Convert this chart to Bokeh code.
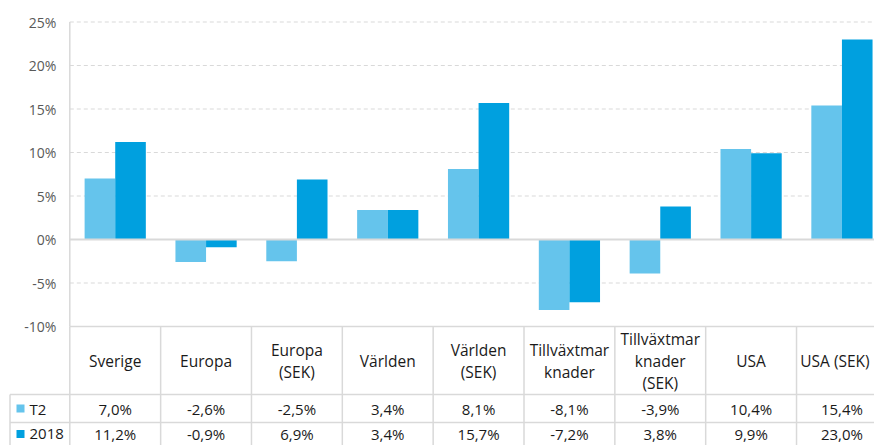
from bokeh.plotting import figure
from bokeh.models import Range1d, ColumnDataSource
from bokeh.core.properties import value
from bokeh.embed import file_html
from bokeh.resources import INLINE

# ---------------- data ----------------
categories = ["Sverige", "Europa", "Europa\n(SEK)", "Världen", "Världen\n(SEK)",
              "Tillväxtmar\nknader", "Tillväxtmar\nknader\n(SEK)", "USA", "USA (SEK)"]
series_names = ["T2", "2018"]
t2_values = [7.0, -2.6, -2.5, 3.4, 8.1, -8.1, -3.9, 10.4, 15.4]
y2018_values = [11.2, -0.9, 6.9, 3.4, 15.7, -7.2, 3.8, 9.9, 23.0]
y_ticks = [-10, -5, 0, 5, 10, 15, 20, 25]
y_tick_labels = [f"{t}%" for t in y_ticks]

# ---------------- layout (pixels) ----------------
W, H = 874, 445
frame_left_px = 69.3
col_px = 90.84
zero_px = 239.0
px_per_unit = 8.7
header_bottom_px = 394.0
t2_bottom_px = 422.0
row2_center_px = 433.5
table_left_px = 9.5

def xd(px):
    return (px - frame_left_px) / col_px

def yd(py):
    return (zero_px - py) / px_per_unit

x_start, x_end = xd(0), xd(W)
y_start, y_end = yd(H), yd(0)

c_t2 = "#65C4EC"
c_18 = "#00A0DF"
grid_c = "#D9D9D9"
font = value("Open Sans")
txt_c = "#1A1A1A"
fs = "15.5px"
fs_row = "15px"

p = figure(width=W, height=H, output_backend="svg", toolbar_location=None,
           x_range=Range1d(x_start, x_end), y_range=Range1d(y_start, y_end),
           x_axis_location=None, y_axis_location=None, min_border=0,
           outline_line_color=None, background_fill_color="white",
           border_fill_color="white")
p.grid.visible = False

n = len(categories)
centers = [i + 0.5 for i in range(n)]
bw = 0.337

# dashed gridlines
dash_ticks = [t for t in y_ticks if t not in (0, y_ticks[0])]
p.segment(x0=[0] * len(dash_ticks), x1=[x_end] * len(dash_ticks), y0=dash_ticks, y1=dash_ticks,
          line_color=grid_c, line_width=1.2, line_dash="4 3")

# bars
p.vbar(x=[c - bw / 2 for c in centers], width=bw, top=t2_values, bottom=0,
       fill_color=c_t2, line_color=None)
p.vbar(x=[c + bw / 2 for c in centers], width=bw, top=y2018_values, bottom=0,
       fill_color=c_18, line_color=None)

# zero line and axis line
p.segment(x0=[0], x1=[x_end], y0=[0], y1=[0], line_color=grid_c, line_width=2)
p.segment(x0=[0], x1=[0], y0=[y_ticks[0]], y1=[y_ticks[-1]], line_color=grid_c, line_width=1.5)

# y tick labels
p.text(x=[0] * len(y_ticks), y=y_ticks, text=y_tick_labels, x_offset=-13.5,
       text_align="right", text_baseline="middle", text_font=font,
       text_font_size="14px", text_color="#595959")

# ---------------- data table ----------------
tb_top = y_ticks[0]
hb = yd(header_bottom_px)
rb = yd(t2_bottom_px)
bot = y_start
xl = xd(table_left_px)

# vertical lines
p.segment(x0=list(range(n + 1)), x1=list(range(n + 1)), y0=[tb_top] * (n + 1), y1=[bot] * (n + 1),
          line_color=grid_c, line_width=1.5)
p.segment(x0=[xl], x1=[xl], y0=[hb], y1=[bot], line_color=grid_c, line_width=1.5)
# horizontal lines
p.segment(x0=[0, xl, xl], x1=[x_end] * 3, y0=[tb_top, hb, rb], y1=[tb_top, hb, rb],
          line_color=grid_c, line_width=1.5)

# header text (last column nudged so it stays inside the picture)
hdr_src = ColumnDataSource(dict(x=centers, y=[(tb_top + hb) / 2] * n, text=categories,
                                xo=[0] * (n - 1) + [-7]))
p.text(x="x", y="y", text="text", x_offset="xo", source=hdr_src, text_align="center",
       text_baseline="middle", text_font=font, text_font_size=fs,
       text_color=txt_c, text_line_height=1.0)

def fmt(v):
    return f"{v:.1f}%".replace(".", ",")

row1_y = (hb + rb) / 2
row2_y = yd(row2_center_px)
p.text(x=centers, y=[row1_y] * n, text=[fmt(v) for v in t2_values], text_align="center",
       text_baseline="middle", text_font=font, text_font_size=fs_row, text_color=txt_c)
p.text(x=centers, y=[row2_y] * n, text=[fmt(v) for v in y2018_values], text_align="center",
       text_baseline="middle", text_font=font, text_font_size=fs_row, text_color=txt_c)

# legend keys in the table
p.scatter(x=[xd(20)] * 2, y=[row1_y, row2_y], marker="square", size=8,
          fill_color=[c_t2, c_18], line_color=None)
p.text(x=[xd(29)] * 2, y=[row1_y, row2_y], text=series_names, text_align="left",
       text_baseline="middle", text_font=font, text_font_size=fs_row, text_color=txt_c)

open("out.html", "w").write(file_html(p, INLINE))
